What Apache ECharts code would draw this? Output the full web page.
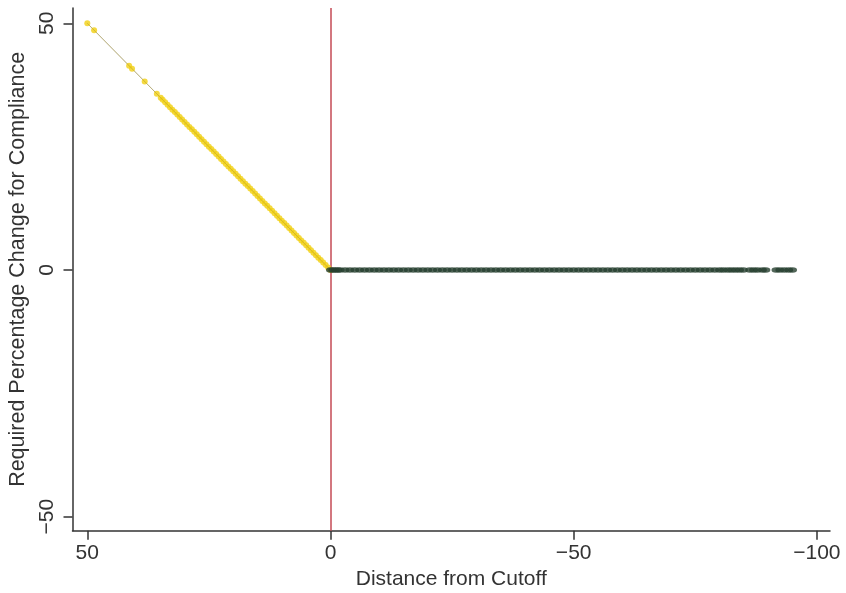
<!DOCTYPE html>
<html>
<head>
<meta charset="utf-8">
<script src="https://cdn.jsdelivr.net/npm/echarts@6/dist/echarts.min.js"></script>
<style>
  html, body { margin: 0; padding: 0; background: #fff; }
  #chart { width: 846px; height: 593px; }
</style>
</head>
<body>
<div id="chart"></div>
<script>
// Units above the cutoff: distance from cutoff and the required percentage change
const aboveDist = [50, 48.6, 41.4, 40.8, 38.2, 35.7, 34.9, 34.5, 34, 33.5, 33, 32.5, 32, 31.5, 31, 30.5,
  30, 29.5, 29, 28.5, 28, 27.5, 27, 26.5, 26, 25.5, 25, 24.5, 24, 23.5, 23, 22.5, 22, 21.5, 21, 20.5,
  20, 19.5, 19, 18.5, 18, 17.5, 17, 16.5, 16, 15.5, 15, 14.5, 14, 13.5, 13, 12.5, 12, 11.5, 11, 10.5,
  10, 9.5, 9, 8.5, 8, 7.5, 7, 6.5, 6, 5.5, 5, 4.5, 4, 3.5, 3, 2.5, 2, 1.5, 1, 0.5, 0];
const aboveChange = [50, 48.6, 41.4, 40.8, 38.2, 35.7, 34.9, 34.5, 34, 33.5, 33, 32.5, 32, 31.5, 31, 30.5,
  30, 29.5, 29, 28.5, 28, 27.5, 27, 26.5, 26, 25.5, 25, 24.5, 24, 23.5, 23, 22.5, 22, 21.5, 21, 20.5,
  20, 19.5, 19, 18.5, 18, 17.5, 17, 16.5, 16, 15.5, 15, 14.5, 14, 13.5, 13, 12.5, 12, 11.5, 11, 10.5,
  10, 9.5, 9, 8.5, 8, 7.5, 7, 6.5, 6, 5.5, 5, 4.5, 4, 3.5, 3, 2.5, 2, 1.5, 1, 0.5, 0];

// Units already below the cutoff: no change required
const belowDist = [0, -0.5, -1, -1.5, -2, -3, -4, -5, -6, -7, -8, -9, -10, -11, -12, -13, -14, -15, -16, -17, -18, -19,
  -20, -21, -22, -23, -24, -25, -26, -27, -28, -29, -30, -31, -32, -33, -34, -35, -36, -37, -38, -39,
  -40, -41, -42, -43, -44, -45, -46, -47, -48, -49, -50, -51, -52, -53, -54, -55, -56, -57, -58, -59,
  -60, -61, -62, -63, -64, -65, -66, -67, -68, -69, -70, -71, -72, -73, -74, -75, -76, -77, -78, -79,
  -80, -80.8, -81.7, -82.5, -83.3, -84.1, -84.9, -86.2, -87, -87.8, -88.8, -89.5, -91.6, -92.4, -93.3, -94.2, -95];
const belowChange = [0, 0, 0, 0, 0, 0, 0, 0, 0, 0, 0, 0, 0, 0, 0, 0, 0, 0, 0, 0, 0, 0,
  0, 0, 0, 0, 0, 0, 0, 0, 0, 0, 0, 0, 0, 0, 0, 0, 0, 0, 0, 0,
  0, 0, 0, 0, 0, 0, 0, 0, 0, 0, 0, 0, 0, 0, 0, 0, 0, 0, 0, 0,
  0, 0, 0, 0, 0, 0, 0, 0, 0, 0, 0, 0, 0, 0, 0, 0, 0, 0, 0, 0,
  0, 0, 0, 0, 0, 0, 0, 0, 0, 0, 0, 0, 0, 0, 0, 0, 0];

// Thin reference line through the above-cutoff points
const guideDist = [50, 0];
const guideChange = [50, 0];

const xTicks = [50, 0, -50, -100];
const yTicks = [-50, 0, 50];
const cutoff = 0;

const pairs = (xs, ys) => xs.map((x, i) => [x, ys[i]]);
const minus = v => String(v).replace('-', '\u2212');

const axisColor = '#333';
const font = 'Liberation Sans, Arial, Helvetica, sans-serif';
const fontSize = 21;

const chart = echarts.init(document.getElementById('chart'));
chart.setOption({
  animation: false,
  backgroundColor: '#fff',
  grid: { left: 72.5, right: 16, top: 8, bottom: 62.3, outerBoundsMode: 'none', containLabel: false },
  xAxis: {
    type: 'value',
    inverse: true,
    min: -102.7,
    max: 53.04,
    name: 'Distance from Cutoff',
    nameLocation: 'middle',
    nameGap: 34,
    nameTextStyle: { fontFamily: font, fontSize: fontSize, color: axisColor },
    axisLine: { show: true, onZero: false, lineStyle: { color: axisColor, width: 1.5 } },
    axisTick: { show: true, customValues: xTicks, length: 9, lineStyle: { color: axisColor, width: 1.5 } },
    axisLabel: { customValues: xTicks, formatter: minus, margin: 12, fontFamily: font, fontSize: fontSize, color: axisColor },
    splitLine: { show: false }
  },
  yAxis: {
    type: 'value',
    min: -52.84,
    max: 53.1,
    name: 'Required Percentage Change for Compliance',
    nameLocation: 'middle',
    nameGap: 37,
    nameTextStyle: { fontFamily: font, fontSize: 21.5, color: axisColor },
    axisLine: { show: true, onZero: false, lineStyle: { color: axisColor, width: 1.5 } },
    axisTick: { show: true, customValues: yTicks, length: 9, lineStyle: { color: axisColor, width: 1.5 } },
    axisLabel: { customValues: yTicks, formatter: minus, rotate: 90, margin: 15, fontFamily: font, fontSize: fontSize, color: axisColor },
    splitLine: { show: false }
  },
  series: [
    {
      type: 'line',
      data: pairs(guideDist, guideChange),
      symbol: 'none',
      lineStyle: { color: '#bdbdb2', width: 1 },
      z: 1
    },
    {
      type: 'scatter',
      data: pairs(aboveDist, aboveChange),
      symbolSize: 6,
      itemStyle: { color: '#f1cf12' },
      z: 2
    },
    {
      type: 'line',
      data: pairs(guideDist, guideChange),
      symbol: 'none',
      lineStyle: { color: '#b39a2a', width: 0.8, opacity: 0.5 },
      z: 3
    },
    {
      type: 'scatter',
      data: pairs(belowDist, belowChange),
      symbolSize: [9, 5.5],
      itemStyle: { color: '#27402f' },
      z: 4,
      markLine: {
        silent: true,
        symbol: 'none',
        label: { show: false },
        lineStyle: { color: '#c44a55', width: 1.5, type: 'solid' },
        data: [{ xAxis: cutoff }],
        z: 1
      }
    }
  ]
});
</script>
</body>
</html>
